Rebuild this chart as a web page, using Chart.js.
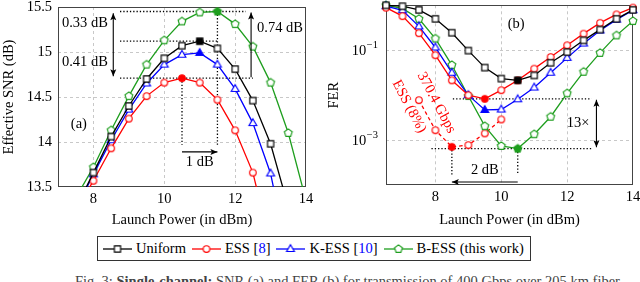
<!DOCTYPE html>
<html><head><meta charset="utf-8">
<script src="https://cdn.jsdelivr.net/npm/chart.js@4.4.1/dist/chart.umd.min.js"></script>
<style>
html,body{margin:0;padding:0;background:#fff;width:640px;height:282px;overflow:hidden;}
body{position:relative;font-family:"Liberation Serif",serif;color:#000;}
#w1{position:absolute;left:0;top:0;width:320px;height:232px;}
#w2{position:absolute;left:320px;top:0;width:320px;height:232px;}
#legend{position:absolute;left:97px;top:236px;height:25px;border:1px solid #333;display:flex;align-items:center;padding:0 6px 0 5px;font-size:14.5px;white-space:nowrap;box-sizing:border-box;}
#legend canvas{margin-right:4px;}
#legend .t{margin-right:6px;}
#legend .t:last-child{margin-right:0;}
.ref{color:#0000ff;}
#cap{position:absolute;left:75px;top:273px;font-size:14.5px;white-space:nowrap;color:#444;}
</style></head>
<body>
<div id="w1"><canvas id="c1"></canvas></div>
<div id="w2"><canvas id="c2"></canvas></div>
<div id="legend"></div>
<div id="cap">Fig. 3: <b>Single-channel:</b> SNR (a) and FER (b) for transmission of 400 Gbps over 205 km fiber</div>
<script>
// ---------- data ----------
const seriesNames = ['Uniform', 'ESS [8]', 'K-ESS [10]', 'B-ESS (this work)'];
// (a) effective SNR vs launch power
const powerA = [7.5, 8, 8.5, 9, 9.5, 10, 10.5, 11, 11.5, 12, 12.5, 13, 13.5, 14];
const snrUniform = [13.26, 13.66, 14.06, 14.40, 14.70, 14.93, 15.07, 15.12, 15.04, 14.81, 14.46, 13.98, 13.28, null];
const snrESS     = [13.23, 13.57, 13.93, 14.26, 14.51, 14.66, 14.71, 14.66, 14.47, 14.13, 13.66, 12.85, null, null];
const snrKESS    = [13.25, 13.64, 14.02, 14.36, 14.65, 14.86, 14.97, 14.99, 14.86, 14.59, 14.21, 13.65, 12.71, null];
const snrBESS    = [13.38, 13.72, 14.13, 14.51, 14.86, 15.13, 15.34, 15.44, 15.45, 15.31, 15.06, 14.66, 14.10, 13.35];
const optIdxA = [7, 6, 7, 8];
// (b) FER vs launch power
const powerB = [6.5, 7, 7.5, 8, 8.5, 9, 9.5, 10, 10.5, 11, 11.5, 12, 12.5, 13, 13.5, 14];
const ferUniform = [1.0, 0.955, 0.79, 0.50, 0.245, 0.098, 0.041, 0.0234, 0.0214, 0.0275, 0.0525, 0.091, 0.166, 0.288, 0.50, 0.79];
const ferESS     = [0.89, 0.575, 0.24, 0.0776, 0.0214, 0.0100, 0.0083, 0.0129, 0.0214, 0.0389, 0.0708, 0.129, 0.234, 0.407, 0.63, 0.89];
const ferKESS    = [0.955, 0.776, 0.339, 0.115, 0.0316, 0.0100, 0.00468, 0.00479, 0.0081, 0.0148, 0.0316, 0.0676, 0.141, 0.275, 0.479, 0.776];
const ferBESS    = [1.0, 0.85, 0.50, 0.182, 0.0468, 0.00955, 0.00204, 0.00074, 0.000646, 0.00135, 0.00331, 0.011, 0.0331, 0.0871, 0.214, 0.447];
const optIdxB = [8, 6, 6, 8];
const powerESS370 = [7.5, 8, 8.5, 9, 9.5, 10];
const ferESS370 = [0.00776, 0.00166, 0.000708, 0.000776, 0.00141, 0.00288];
const optIdxESS370 = 2;
// ticks
const xTicksA = [8, 10, 12, 14];
const yTicksA = [13.5, 14, 14.5, 15, 15.5];
const xTicksB = [8, 10, 12, 14];
const yTicksB = [1e-1, 1e-3];
const yTickExpB = ['\u22121', '\u22123'];

// ---------- styles ----------
const FONT = '"Liberation Serif", "DejaVu Serif", serif';
const FS = 14.5;
const colors = ['#000000', '#ff0000', '#0000ff', '#1e9e1e'];
const shapes = ['square', 'circle', 'triangle', 'pentagon'];
Chart.defaults.font.family = FONT;
Chart.defaults.font.size = FS;
Chart.defaults.color = '#000';

function marker(shape, color, filled) {
  const c = document.createElement('canvas');
  const s = 12; c.width = s; c.height = s;
  const g = c.getContext('2d');
  g.translate(s / 2, s / 2);
  g.lineWidth = 1.15; g.strokeStyle = color; g.fillStyle = filled ? color : '#fff';
  g.beginPath();
  if (shape === 'square') g.rect(-3.1, -3.1, 6.2, 6.2);
  else if (shape === 'circle') g.arc(0, 0, 3.3, 0, Math.PI * 2);
  else if (shape === 'triangle') { g.moveTo(0, -4.3); g.lineTo(3.9, 2.5); g.lineTo(-3.9, 2.5); g.closePath(); }
  else { for (let i = 0; i < 5; i++) { const a = (-90 + 72 * i) * Math.PI / 180; const r = 4.1; i ? g.lineTo(r * Math.cos(a), r * Math.sin(a)) : g.moveTo(r * Math.cos(a), r * Math.sin(a)); } g.closePath(); }
  g.fill(); g.stroke();
  return c;
}

function makeDs(label, xs, ys, k, filledIdx, extra) {
  const open = marker(shapes[k], colors[k], false), full = marker(shapes[k], colors[k], true);
  const data = [];
  xs.forEach((x, i) => { if (ys[i] !== null) data.push({ x: x, y: ys[i] }); });
  return Object.assign({
    label: label, data: data, borderColor: colors[k], backgroundColor: colors[k], borderWidth: 1.3,
    pointStyle: ctx => ctx.dataIndex === filledIdx ? full : open,
    pointRadius: 4, pointHoverRadius: 4, tension: 0, fill: false
  }, extra || {});
}

const frameAndAnnot = {
  id: 'annot',
  beforeDatasetsDraw(chart, args, o) {
    const { ctx, chartArea: a, scales: { x, y } } = chart;
    ctx.save();
    ctx.strokeStyle = '#444'; ctx.lineWidth = 1; ctx.setLineDash([]);
    ctx.strokeRect(Math.round(a.left) + 0.5, Math.round(a.top) + 0.5, Math.round(a.right - a.left) - 1, Math.round(a.bottom - a.top) - 1);
    ctx.strokeStyle = '#000'; ctx.lineWidth = 1.3; ctx.setLineDash([1.3, 2]);
    (o.dotted || []).forEach(d => {
      ctx.beginPath();
      ctx.moveTo(x.getPixelForValue(d[0]), y.getPixelForValue(d[1]));
      ctx.lineTo(x.getPixelForValue(d[2]), y.getPixelForValue(d[3]));
      ctx.stroke();
    });
    ctx.restore();
  },
  afterDatasetsDraw(chart, args, o) {
    const { ctx, scales: { x, y } } = chart;
    ctx.save();
    const head = (px, py, ang) => {
      ctx.save(); ctx.translate(px, py); ctx.rotate(ang);
      ctx.beginPath(); ctx.moveTo(0, 0); ctx.lineTo(-7, -3); ctx.lineTo(-5.5, 0); ctx.lineTo(-7, 3); ctx.closePath(); ctx.fill();
      ctx.restore();
    };
    ctx.strokeStyle = '#000'; ctx.fillStyle = '#000'; ctx.lineWidth = 1.1;
    (o.arrows || []).forEach(d => {
      const x1 = x.getPixelForValue(d[0]), y1 = y.getPixelForValue(d[1]);
      const x2 = x.getPixelForValue(d[2]), y2 = y.getPixelForValue(d[3]);
      const ang = Math.atan2(y2 - y1, x2 - x1);
      ctx.beginPath(); ctx.moveTo(x1, y1); ctx.lineTo(x2, y2); ctx.stroke();
      head(x2, y2, ang);
      if (d[4]) head(x1, y1, ang + Math.PI);
    });
    (o.texts || []).forEach(t => {
      ctx.save();
      ctx.translate(x.getPixelForValue(t.x), y.getPixelForValue(t.y));
      if (t.rot) ctx.rotate(t.rot * Math.PI / 180);
      ctx.fillStyle = t.color || '#000';
      ctx.font = FS + 'px ' + FONT;
      ctx.textAlign = t.align || 'center'; ctx.textBaseline = 'middle';
      ctx.fillText(t.text, 0, 0);
      ctx.restore();
    });
    ctx.restore();
  }
};

function gridColor(edge) {
  return ctx => (ctx.tick && edge.indexOf(ctx.tick.value) >= 0) ? 'rgba(0,0,0,0)' : '#c8c8c8';
}

// ---------- chart (a) ----------
new Chart(document.getElementById('c1'), {
  type: 'line',
  data: { datasets: [
    makeDs(seriesNames[0], powerA, snrUniform, 0, optIdxA[0]),
    makeDs(seriesNames[1], powerA, snrESS, 1, optIdxA[1]),
    makeDs(seriesNames[2], powerA, snrKESS, 2, optIdxA[2]),
    makeDs(seriesNames[3], powerA, snrBESS, 3, optIdxA[3])
  ] },
  options: {
    responsive: true, maintainAspectRatio: false, animation: false, events: [],
    layout: { padding: { left: 0, right: 14, top: 7, bottom: 0 } },
    plugins: {
      legend: { display: false }, tooltip: { enabled: false },
      annot: {
        dotted: [[8.75, 15.45, 12.3, 15.45], [8.75, 15.12, 11.5, 15.12], [8.75, 14.71, 12.5, 14.71],
                 [10.5, 14.71, 10.5, 13.97], [11.5, 15.45, 11.5, 13.97]],
        arrows: [[8.56, 15.43, 8.56, 14.73, true], [12.45, 14.72, 12.45, 15.44, false], [10.5, 13.89, 11.5, 13.89, false]],
        texts: [
          { x: 7.76, y: 15.32, text: '0.33 dB' }, { x: 7.76, y: 14.89, text: '0.41 dB' },
          { x: 12.62, y: 15.27, text: '0.74 dB', align: 'left' }, { x: 11.0, y: 13.78, text: '1 dB' },
          { x: 7.59, y: 14.2, text: '(a)' }
        ]
      }
    },
    scales: {
      x: {
        type: 'linear', min: 7, max: 14,
        afterBuildTicks: s => { s.ticks = xTicksA.map(v => ({ value: v })); },
        afterFit: s => { s.height = 45; s.paddingLeft = 0; s.paddingRight = 0; },
        grid: { color: gridColor([7, 14]), drawTicks: false, lineWidth: 1 },
        border: { display: false, dash: [3, 3] },
        ticks: { padding: 3, maxRotation: 0, font: { size: FS } },
        title: { display: true, text: 'Launch Power (in dBm)', font: { size: FS }, padding: { top: 0, bottom: 3 } }
      },
      y: {
        type: 'linear', min: 13.5, max: 15.5,
        afterBuildTicks: s => { s.ticks = yTicksA.map(v => ({ value: v })); },
        afterFit: s => { s.width = 58; s.paddingTop = 0; s.paddingBottom = 0; },
        grid: { color: gridColor([13.5, 15.5]), drawTicks: false, lineWidth: 1 },
        border: { display: false, dash: [3, 3] },
        ticks: { padding: 6, font: { size: FS }, callback: v => String(v) },
        title: { display: true, text: 'Effective SNR (dB)', font: { size: FS }, padding: { top: 0, bottom: 0 } }
      }
    }
  },
  plugins: [frameAndAnnot]
});

// ---------- chart (b) ----------
const yTickPlugin = {
  id: 'logTicks',
  afterDraw(chart) {
    const { ctx, scales: { y } } = chart;
    ctx.save();
    ctx.fillStyle = '#000'; ctx.textBaseline = 'middle';
    yTicksB.forEach((v, i) => {
      const py = y.getPixelForValue(v);
      const right = y.right - 8;
      ctx.font = '10.5px ' + FONT;
      const ew = ctx.measureText(yTickExpB[i]).width;
      ctx.textAlign = 'left';
      ctx.fillText(yTickExpB[i], right - ew, py - 5);
      ctx.font = FS + 'px ' + FONT;
      ctx.textAlign = 'right';
      ctx.fillText('10', right - ew - 0.5, py + 1);
    });
    ctx.restore();
  }
};

new Chart(document.getElementById('c2'), {
  type: 'line',
  data: { datasets: [
    makeDs(seriesNames[0], powerB, ferUniform, 0, optIdxB[0], { clip: 8 }),
    makeDs(seriesNames[1], powerB, ferESS, 1, optIdxB[1], { clip: 8 }),
    makeDs(seriesNames[2], powerB, ferKESS, 2, optIdxB[2], { clip: 8 }),
    makeDs(seriesNames[3], powerB, ferBESS, 3, optIdxB[3], { clip: 8 }),
    makeDs('ESS 370.4 Gbps (8%)', powerESS370, ferESS370, 1, optIdxESS370, { clip: 8, borderDash: [3.5, 3] })
  ] },
  options: {
    responsive: true, maintainAspectRatio: false, animation: false, events: [],
    layout: { padding: { left: 0, right: 7, top: 5, bottom: 0 } },
    plugins: {
      legend: { display: false }, tooltip: { enabled: false },
      annot: {
        dotted: [[8.53, 0.0083, 12.74, 0.0083], [7.88, 0.000646, 12.74, 0.000646],
                 [8.5, 0.000708, 8.5, 0.000166], [10.5, 0.000646, 10.5, 0.000166]],
        arrows: [[12.89, 0.0079, 12.89, 0.00069, true], [10.5, 0.000117, 8.5, 0.000117, false]],
        texts: [
          { x: 12.33, y: 0.0024, text: '13\u00d7' }, { x: 9.5, y: 0.00021, text: '2 dB' },
          { x: 10.45, y: 0.38, text: '(b)' },
          { x: 7.2, y: 0.0056, text: 'ESS (8%)', rot: 62, color: '#ff0000' },
          { x: 8.03, y: 0.0068, text: '370.4 Gbps', rot: 62, color: '#ff0000' }
        ]
      }
    },
    scales: {
      x: {
        type: 'linear', min: 6.5, max: 14,
        afterBuildTicks: s => { s.ticks = xTicksB.map(v => ({ value: v })); },
        afterFit: s => { s.height = 47; s.paddingLeft = 0; s.paddingRight = 0; },
        grid: { color: gridColor([14]), drawTicks: false, lineWidth: 1 },
        border: { display: false, dash: [3, 3] },
        ticks: { padding: 3, maxRotation: 0, font: { size: FS } },
        title: { display: true, text: 'Launch Power (in dBm)', font: { size: FS }, padding: { top: 0, bottom: 3 } }
      },
      y: {
        type: 'logarithmic', min: 1e-4, max: 1,
        afterBuildTicks: s => { s.ticks = yTicksB.map(v => ({ value: v })); },
        afterFit: s => { s.width = 66; s.paddingTop = 0; s.paddingBottom = 0; },
        grid: { color: '#c8c8c8', drawTicks: false, lineWidth: 1 },
        border: { display: false, dash: [3, 3] },
        ticks: { display: false },
        title: { display: true, text: 'FER', font: { size: FS }, padding: { top: 5, bottom: 0 } }
      }
    }
  },
  plugins: [frameAndAnnot, yTickPlugin]
});

// ---------- legend ----------
const legend = document.getElementById('legend');
const legendHtml = ['Uniform', 'ESS [<span class="ref">8</span>]', 'K-ESS [<span class="ref">10</span>]', 'B-ESS (this work)'];
seriesNames.forEach((n, k) => {
  const c = document.createElement('canvas');
  c.width = 29; c.height = 14;
  const g = c.getContext('2d');
  g.strokeStyle = colors[k]; g.lineWidth = 1.3;
  g.beginPath(); g.moveTo(0, 7); g.lineTo(29, 7); g.stroke();
  g.drawImage(marker(shapes[k], colors[k], false), 14.5 - 6, 7 - 6);
  legend.appendChild(c);
  const t = document.createElement('span');
  t.className = 't'; t.innerHTML = legendHtml[k];
  legend.appendChild(t);
});
</script>
</body></html>
